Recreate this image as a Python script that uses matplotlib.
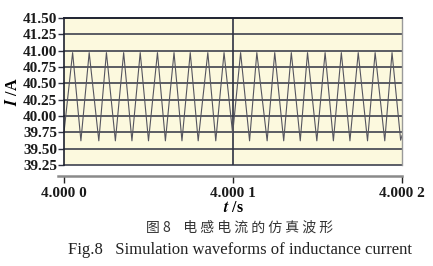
import matplotlib.pyplot as plt
import numpy as np

# 读取的数据（时间单位 us，从 4.0000 s 起算）
peak_t = [5.1, 14.9, 25.1, 35.3, 45.1, 55.3, 65.1, 74.7, 85.1, 94.7,
          104.5, 114.1, 124.7, 134.5, 144.1, 154.5, 164.1, 174.1, 184.1, 194.1]
peak_v = [40.97, 40.97, 40.97, 40.97, 40.97, 40.97, 40.97, 40.97, 40.97, 40.97,
          40.97, 40.97, 40.97, 40.97, 40.97, 40.97, 40.97, 40.97, 40.97, 40.97]
trough_t = [10.0, 20.6, 30.4, 40.2, 50.0, 60.0, 69.8, 79.4, 89.8, 99.8,
            109.8, 120.2, 130.0, 139.8, 149.6, 159.4, 169.2, 179.6, 189.8, 199.2]
trough_v = [39.62, 39.62, 39.62, 39.62, 39.62, 39.62, 39.62, 39.62, 39.62, 39.73,
            39.62, 39.62, 39.62, 39.62, 39.62, 39.62, 39.62, 39.62, 39.62, 39.63]
start = (0.0, 39.75)
end = (200.0, 39.70)

yticks = [39.25, 39.50, 39.75, 40.00, 40.25, 40.50, 40.75, 41.00, 41.25, 41.50]
xticks = [0, 100, 200]
xlabels = ['4.000 0', '4.000 1', '4.000 2']

# 组合折线顶点
t = [start[0]]
v = [start[1]]
for a, b, c, d in zip(peak_t, peak_v, trough_t, trough_v):
    t += [a, c]
    v += [b, d]
t.append(end[0])
v.append(end[1])

plt.rcParams['font.family'] = ['Liberation Serif', 'DejaVu Serif']
plt.rcParams['mathtext.fontset'] = 'stix'

fig = plt.figure(figsize=(4.33, 2.66), dpi=100)
ax = fig.add_axes([64 / 433, 1 - 165 / 266, 338 / 433, 147 / 266])
ax.set_facecolor('#fcf9de')

# 先设置坐标轴边框（set_position 会重置刻度）
ax.spines['top'].set_color('#1e2230')
ax.spines['top'].set_linewidth(1.3)
ax.spines['left'].set_color('#1e2230')
ax.spines['left'].set_linewidth(1.2)
ax.spines['right'].set_color('#9a9a9a')
ax.spines['right'].set_linewidth(1.0)
ax.spines['bottom'].set_position(('outward', 8))
ax.spines['bottom'].set_color('#8a8a8a')
ax.spines['bottom'].set_linewidth(1.8)

grid_c = '#2e3242'
for y in yticks:
    ax.axhline(y, color=grid_c, lw=1.1, zorder=1, clip_on=False)
ax.axvline(100, color=grid_c, lw=1.2, zorder=1)

ax.plot(t, v, color='#55555f', lw=0.8, zorder=2)

ax.set_xlim(0, 200)
ax.set_ylim(39.25, 41.5)
ax.spines['bottom'].set_bounds(-3.5, 200)

ax.set_yticks(yticks)
ax.set_yticklabels(['%.2f' % y for y in yticks])
ax.set_xticks(xticks)
ax.set_xticklabels(xlabels)
for lbl in ax.get_xticklabels() + ax.get_yticklabels():
    lbl.set_fontweight('bold')
    lbl.set_fontsize(11)
    lbl.set_color('#1a1a1a')

ax.tick_params(axis='y', direction='out', length=4.5, width=1, color=grid_c, pad=0.5)
ax.tick_params(axis='x', direction='out', length=5, width=1, color='#222222', pad=3)

ax.set_ylabel(r'$\mathbfit{I}$ /A', fontsize=11.5, fontweight='bold', labelpad=1)
ax.set_xlabel(r'$\mathbfit{t}$ /s', fontsize=11.5, fontweight='bold', labelpad=0)

fig.text(240 / 433, 1 - 228 / 266, '图 8    电 感 电 流 的 仿 真 波 形', ha='center', va='center',
         fontsize=10, color='#333333', family=['Noto Sans CJK SC', 'DejaVu Sans'])
fig.text(240 / 433, 1 - 250 / 266, 'Fig.8   Simulation waveforms of inductance current',
         ha='center', va='center', fontsize=12, color='#222222')

fig.savefig('out.png', dpi=100)
